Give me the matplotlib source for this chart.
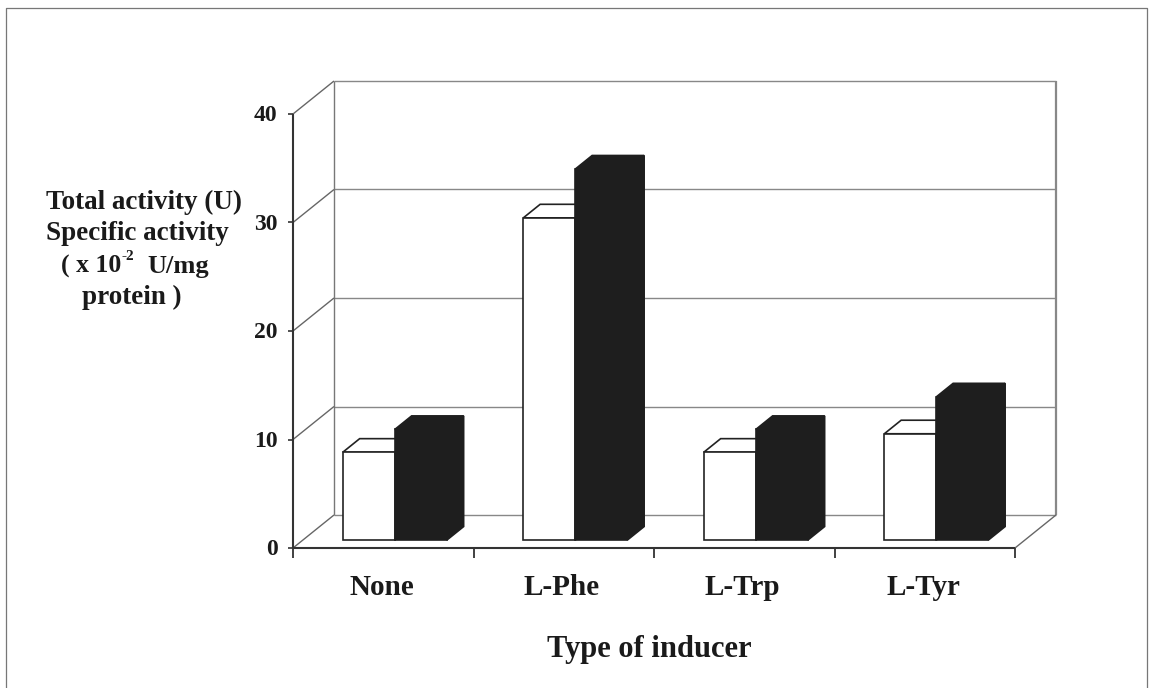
import matplotlib
matplotlib.use("Agg")
import matplotlib.pyplot as plt
from matplotlib.patches import Polygon

categories = ["None", "L-Phe", "L-Trp", "L-Tyr"]
total_activity = [8.1, 29.7, 8.1, 9.8]
specific_activity = [10.2, 34.2, 10.2, 13.2]
y_ticks = [0, 10, 20, 30, 40]

W, H = 1152, 688
plt.rcParams["font.family"] = ["Liberation Serif", "DejaVu Serif"]
plt.rcParams["font.weight"] = "bold"
TEXT = "#1a1a1a"

fig = plt.figure(figsize=(W / 100, H / 100), dpi=100)
px = fig.add_axes([0, 0, 1, 1])
px.set_xlim(0, W)
px.set_ylim(H, 0)
px.axis("off")
# page frame
px.plot([6, 6, 1147, 1147], [688, 8, 8, 688], color="#777777", lw=0.9)

# axes in data units, front plane of the 3d box
ax = fig.add_axes([293 / W, 1 - 548 / H, 722 / W, 434 / H])
ax.set_xlim(0, 4)
ax.set_ylim(0, 40)
ax.axis("off")

# oblique depth, in data units
DX = 41 / 180.5
DY = 33 / 10.85
LINE = "#666666"
AXIS = "#333333"


def depth(x, y, d):
    return x + DX * d, y + DY * d


def line(xs, ys, c=LINE, lw=1.0):
    ax.plot(xs, ys, color=c, lw=lw, clip_on=False, solid_capstyle="butt")


# back wall and gridlines
for t in y_ticks:
    x0, y0 = depth(0, t, 1)
    x1, y1 = depth(4, t, 1)
    line([x0, x1], [y0, y1], "#888888")
x0, y0 = depth(0, 0, 1)
line([x0, x0], [y0, y0 + 40], "#777777")
x1, y1 = depth(4, 0, 1)
line([x1, x1], [y1, y1 + 40], "#888888", 1.6)

# left side and floor
for t in y_ticks:
    line([0, DX], [t, t + DY])
line([4, 4 + DX], [0, DY])
line([0, 0], [0, 40], AXIS, 1.5)
line([0, 4], [0, 0], AXIS, 1.5)

# ticks
for t in y_ticks:
    line([-0.03, 0], [t, t], AXIS, 1.2)
    ax.text(-0.085, t - 0.15, str(t), ha="right", va="center", fontsize=17, color=TEXT)
for i in range(5):
    line([i, i], [0, -0.9], AXIS, 1.3)
for i, c in enumerate(categories):
    ax.text(i + 0.49, -3.65, c, ha="center", va="center", fontsize=21, color=TEXT)


def bar3d(x0, x1, v, face, side, edge):
    d0, d1 = 0.24, 0.65
    bx = DX * d0
    bottom = DY * d0
    top = bottom + v
    ox, oy = DX * (d1 - d0), DY * (d1 - d0)
    front = [(x0 + bx, bottom), (x1 + bx, bottom), (x1 + bx, top), (x0 + bx, top)]
    roof = [(x0 + bx, top), (x1 + bx, top), (x1 + bx + ox, top + oy), (x0 + bx + ox, top + oy)]
    right = [(x1 + bx, bottom), (x1 + bx + ox, bottom + oy), (x1 + bx + ox, top + oy), (x1 + bx, top)]
    ax.add_patch(Polygon(right, closed=True, fc=side, ec=edge, lw=1.2, clip_on=False, zorder=3))
    ax.add_patch(Polygon(roof, closed=True, fc=side, ec=edge, lw=1.2, clip_on=False, zorder=3))
    ax.add_patch(Polygon(front, closed=True, fc=face, ec=edge, lw=1.2, clip_on=False, zorder=3))


bar_w = 52 / 180.5
gap = 40 / 180.5
for i in range(len(categories)):
    left = i + gap
    bar3d(left, left + bar_w, total_activity[i], "white", "white", "#222222")
    bar3d(left + bar_w, left + 2 * bar_w, specific_activity[i], "#1e1e1e", "#1e1e1e", "#1e1e1e")

# axis titles
px.text(46, 202, "Total activity (U)", ha="left", va="center", fontsize=19.5, color=TEXT)
px.text(46, 234, "Specific activity", ha="left", va="center", fontsize=19.5, color=TEXT)
px.text(61, 266, "( x 10", ha="left", va="center", fontsize=18.5, color=TEXT)
px.text(122, 256, "-2", ha="left", va="center", fontsize=11, color=TEXT)
px.text(147, 266, "U/mg", ha="left", va="center", fontsize=19, color=TEXT)
px.text(82, 297, "protein )", ha="left", va="center", fontsize=19.5, color=TEXT)
px.text(649, 650, "Type of inducer", ha="center", va="center", fontsize=22, color=TEXT)

fig.savefig("out.png", dpi=100)
